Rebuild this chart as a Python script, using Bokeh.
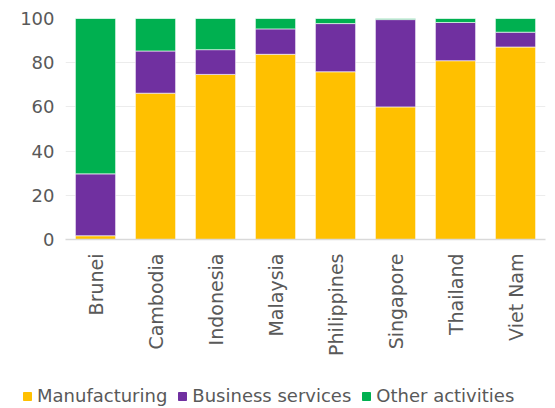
import math
from bokeh.plotting import figure
from bokeh.layouts import column
from bokeh.models import FactorRange, Range1d, Legend, LegendItem
from bokeh.embed import file_html
from bokeh.resources import INLINE

countries = ["Brunei", "Cambodia", "Indonesia", "Malaysia", "Philippines", "Singapore", "Thailand", "Viet Nam"]
manufacturing = [1.7, 66.2, 74.7, 83.8, 75.9, 60.0, 80.9, 87.1]
business = [28.0, 19.1, 11.2, 11.5, 21.8, 39.5, 17.3, 6.7]
other = [70.3, 14.7, 14.1, 4.7, 2.3, 0.5, 1.8, 6.2]
series = ["Manufacturing", "Business services", "Other activities"]
colors = ["#FFC000", "#7030A0", "#00B050"]

FONT = "DejaVu Sans"
GREY = "#595959"

data = dict(country=countries, Manufacturing=manufacturing,
            **{"Business services": business, "Other activities": other})

p = figure(width=555, height=375, x_range=FactorRange(*countries, range_padding=0),
           y_range=Range1d(0, 100), output_backend="svg", toolbar_location=None,
           min_border_left=65, min_border_right=10, min_border_top=18, min_border_bottom=136)

renderers = p.vbar_stack(series, x="country", width=0.67, color=colors, source=data,
                         line_color="white", line_width=0.6)

p.outline_line_color = None
p.xgrid.grid_line_color = None
p.ygrid.grid_line_color = "#ececec"
p.ygrid.grid_line_width = 1

p.yaxis.ticker = [0, 20, 40, 60, 80, 100]
p.yaxis.axis_line_color = None
p.yaxis.major_tick_line_color = None
p.yaxis.minor_tick_line_color = None
p.yaxis.major_label_text_font = FONT
p.yaxis.major_label_text_font_size = "18px"
p.yaxis.major_label_text_color = GREY
p.yaxis.major_label_standoff = 5

p.xaxis.axis_line_color = "#d9d9d9"
p.xaxis.axis_line_width = 1.5
p.xaxis.major_tick_line_color = None
p.xaxis.minor_tick_line_color = None
p.xaxis.major_label_orientation = math.pi / 2
p.xaxis.major_label_text_font = FONT
p.xaxis.major_label_text_font_size = "19px"
p.xaxis.major_label_text_color = GREY
p.xaxis.major_label_standoff = 8

# Legend strip: same bars drawn outside its visible y-range, only the legend shows
lf = figure(width=555, height=33, output_backend="svg", toolbar_location=None,
            x_range=FactorRange(*countries, range_padding=0), y_range=Range1d(1000, 1001),
            x_axis_location=None, y_axis_location=None,
            min_border_left=0, min_border_right=0, min_border_top=0, min_border_bottom=0)
lf.grid.grid_line_color = None
lf.outline_line_color = None

if "frame_align" in lf.properties():
    lf.frame_align = False
    p.frame_align = False
    leg_loc, leg_size, leg_spacing = (22, 2), "18px", 10
else:
    leg_loc, leg_size, leg_spacing = (0, 2), "15px", 8

lrs = lf.vbar_stack(series, x="country", width=0.67, color=colors, source=data)
legend = Legend(items=[LegendItem(label=s, renderers=[r]) for s, r in zip(series, lrs)],
                orientation="horizontal", location=leg_loc,
                label_text_font=FONT, label_text_font_size=leg_size, label_text_color=GREY,
                glyph_width=10, glyph_height=10, label_standoff=5, spacing=leg_spacing,
                padding=0, margin=0, border_line_color=None, background_fill_alpha=0)
lf.add_layout(legend, "center")

layout = column(p, lf, spacing=0)
open("out.html", "w").write(file_html(layout, INLINE))
